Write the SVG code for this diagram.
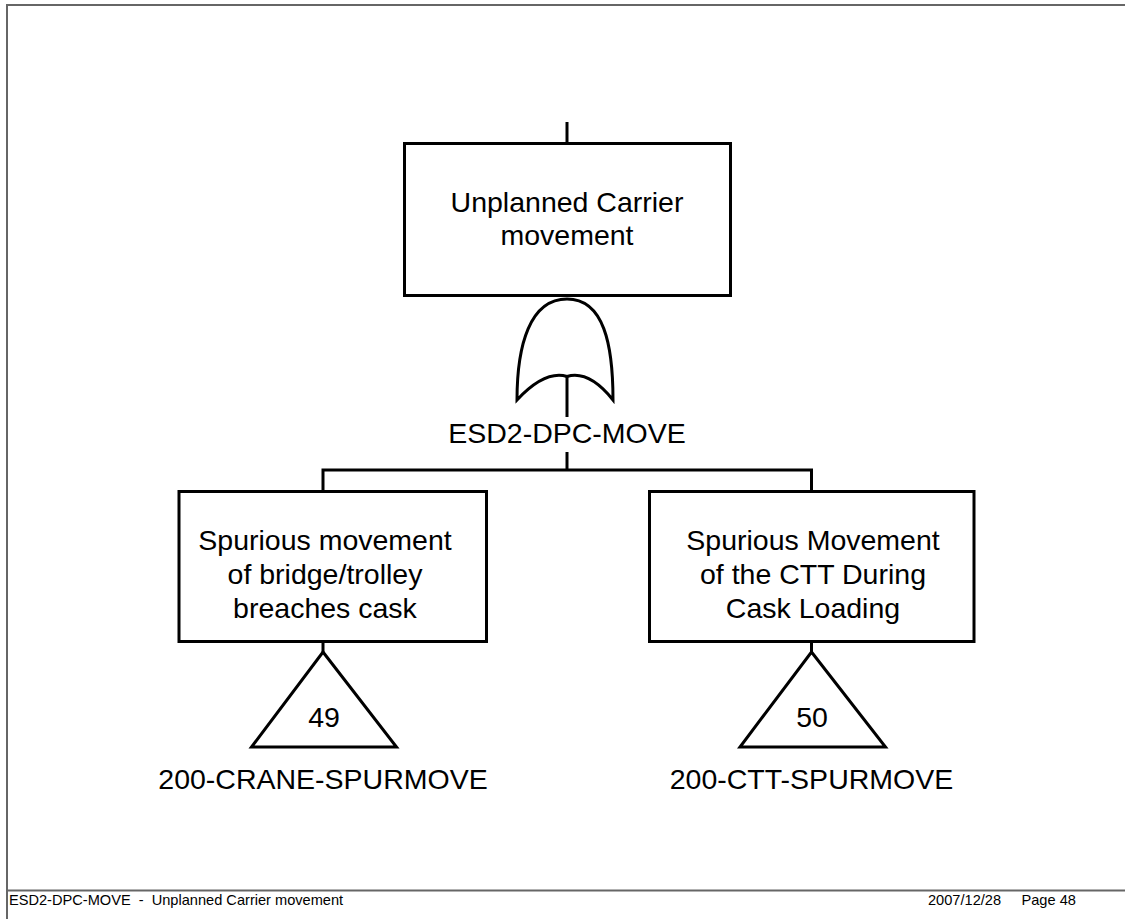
<svg xmlns="http://www.w3.org/2000/svg" width="1125" height="919" viewBox="0 0 1125 919">
  <style>
    .shape { fill: #ffffff; stroke: #000000; stroke-width: 3; }
    .wire { fill: none; stroke: #000000; stroke-width: 3; }
    .lbl { font-family: "Liberation Sans", Arial, sans-serif; font-size: 28.5px; fill: #000000; text-anchor: middle; }
    .foot { font-family: "Liberation Sans", Arial, sans-serif; font-size: 14.6px; fill: #000000; }
    .frame { fill: none; stroke: #666666; stroke-width: 2; }
  </style>

  <rect width="1125" height="919" fill="#ffffff"/>

  <!-- page frame -->
  <g id="frame">
    <line class="frame" x1="6" y1="5" x2="1125" y2="5"/>
    <line class="frame" x1="7" y1="4" x2="7" y2="919"/>
    <line class="frame" x1="6" y1="890.5" x2="1125" y2="890.5"/>
  </g>

  <!-- connectors -->
  <g id="connectors">
    <line class="wire" x1="567" y1="122" x2="567" y2="143"/>
    <line class="wire" x1="567" y1="377" x2="567" y2="417"/>
    <line class="wire" x1="567" y1="452" x2="567" y2="470"/>
    <polyline class="wire" points="323,492 323,470 811.5,470 811.5,492"/>
    <line class="wire" x1="323" y1="642" x2="323" y2="652"/>
    <line class="wire" x1="811.5" y1="642" x2="811.5" y2="652"/>
  </g>

  <!-- top event -->
  <g id="top-event">
    <rect class="shape" x="404.5" y="143.5" width="326" height="152"/>
    <text class="lbl" x="567" y="212">Unplanned Carrier</text>
    <text class="lbl" x="567" y="245">movement</text>
  </g>

  <!-- OR gate -->
  <g id="gate-or">
    <path class="shape" d="M567,299 C530,299 517,345 517,400 Q545,370 567,376.5 Q589,370 613,400 C613,345 604,299 567,299 Z"/>
    <text class="lbl" x="567" y="443">ESD2-DPC-MOVE</text>
  </g>

  <!-- left event -->
  <g id="event-crane">
    <rect class="shape" x="179" y="491.5" width="307.5" height="150"/>
    <text class="lbl" x="325" y="550">Spurious movement</text>
    <text class="lbl" x="325" y="584">of bridge/trolley</text>
    <text class="lbl" x="325" y="618">breaches cask</text>
  </g>

  <!-- right event -->
  <g id="event-ctt">
    <rect class="shape" x="649.5" y="491.5" width="324.5" height="150"/>
    <text class="lbl" x="813" y="550">Spurious Movement</text>
    <text class="lbl" x="813" y="584">of the CTT During</text>
    <text class="lbl" x="813" y="618">Cask Loading</text>
  </g>

  <!-- transfer triangles -->
  <g id="transfer-49">
    <polygon class="shape" points="323,652 396.5,747 251.5,747"/>
    <text class="lbl" x="324" y="727">49</text>
    <text class="lbl" x="323" y="789">200-CRANE-SPURMOVE</text>
  </g>
  <g id="transfer-50">
    <polygon class="shape" points="811.5,652 885.5,747 740,747"/>
    <text class="lbl" x="812" y="727">50</text>
    <text class="lbl" x="811.5" y="789">200-CTT-SPURMOVE</text>
  </g>

  <!-- footer -->
  <g id="footer">
    <text class="foot" x="9" y="905" xml:space="preserve">ESD2-DPC-MOVE  -  Unplanned Carrier movement</text>
    <text class="foot" x="928" y="905">2007/12/28</text>
    <text class="foot" x="1021.5" y="905">Page 48</text>
  </g>
</svg>
